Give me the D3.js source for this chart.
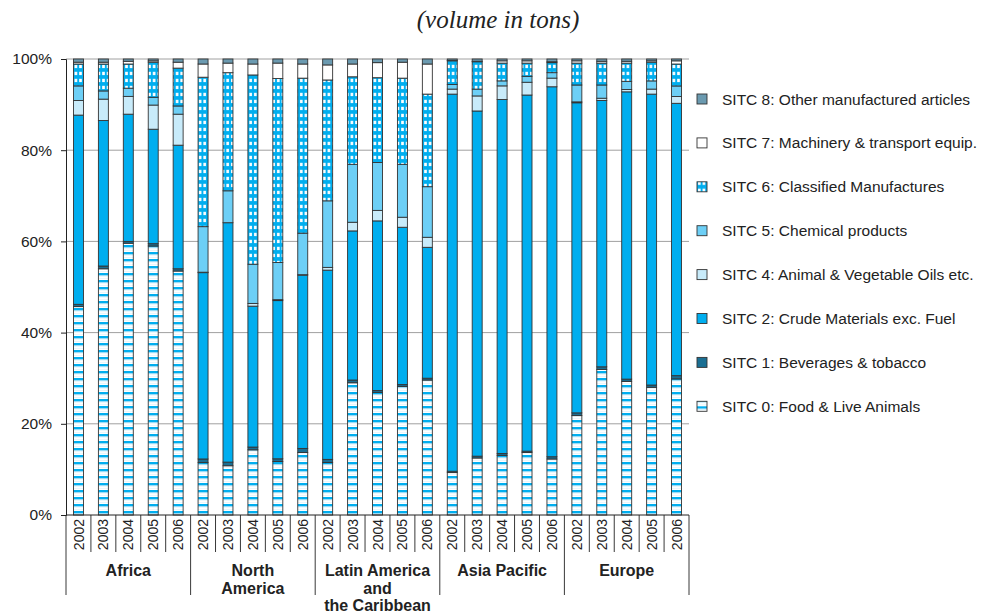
<!DOCTYPE html>
<html>
<head>
<meta charset="utf-8">
<script src="https://cdn.jsdelivr.net/npm/d3@7"></script>
<style>
	body { margin: 0; background: #fff; }
	text { font-family: "Liberation Sans", Arial, sans-serif; fill: #222; }
</style>
</head>
<body>
<svg id="svg"></svg>
<script>
var width = 1004, height = 613;

// data, share of volume (%) per region and year
var regions = ["Africa", "North|America", "Latin America|and|the Caribbean", "Asia Pacific", "Europe"];
var years = ["2002", "2003", "2004", "2005", "2006"];
var seriesKeys = ["sitc0", "sitc1", "sitc2", "sitc4", "sitc5", "sitc6", "sitc7", "sitc8"];
var seriesNames = ["SITC 0: Food & Live Animals", "SITC 1: Beverages & tobacco", "SITC 2: Crude Materials exc. Fuel",
	"SITC 4: Animal & Vegetable Oils etc.", "SITC 5: Chemical products", "SITC 6: Classified Manufactures",
	"SITC 7: Machinery & transport equip.", "SITC 8: Other manufactured articles"];
var sitc0 = [45.7, 54.0, 59.6, 59.0, 53.5, 11.5, 10.8, 14.3, 11.8, 13.7, 11.5, 29.0, 26.9, 28.2, 29.6, 9.3, 12.5, 13.1, 13.7, 12.3, 21.8, 31.9, 29.3, 28.0, 29.8];
var sitc1 = [0.5, 0.6, 0.4, 0.5, 0.5, 0.8, 0.8, 0.6, 0.6, 0.9, 0.7, 0.6, 0.4, 0.4, 0.4, 0.3, 0.4, 0.4, 0.3, 0.5, 0.6, 0.6, 0.5, 0.5, 0.7];
var sitc2 = [41.5, 31.9, 27.9, 25.1, 27.1, 40.9, 52.5, 30.9, 34.9, 38.0, 41.5, 32.7, 37.2, 34.5, 28.7, 82.7, 75.7, 77.7, 78.1, 81.3, 68.0, 58.4, 63.0, 63.8, 59.6];
var sitc4 = [3.2, 4.7, 3.9, 5.3, 6.8, 0.1, 0.0, 0.6, 0.2, 0.1, 0.6, 1.9, 2.3, 2.2, 2.2, 1.1, 3.3, 3.0, 2.8, 1.9, 0.2, 0.5, 0.5, 1.1, 1.5];
var sitc5 = [3.2, 1.8, 1.8, 1.7, 1.8, 10.0, 7.0, 8.6, 8.2, 9.1, 14.6, 12.7, 10.5, 11.6, 11.1, 1.0, 1.5, 1.1, 1.3, 1.2, 3.7, 2.9, 1.8, 1.8, 2.3];
var sitc6 = [4.8, 5.9, 5.3, 7.7, 8.3, 32.8, 25.9, 41.5, 40.6, 34.0, 26.5, 19.2, 18.6, 18.9, 20.3, 5.2, 6.0, 3.9, 2.9, 2.2, 4.8, 4.8, 4.0, 4.1, 4.8];
var sitc7 = [0.4, 0.4, 0.6, 0.3, 1.3, 2.9, 2.1, 2.4, 3.4, 3.1, 3.3, 2.8, 3.3, 3.5, 6.6, 0.1, 0.1, 0.5, 0.5, 0.2, 0.5, 0.4, 0.4, 0.3, 0.7];
var sitc8 = [0.7, 0.7, 0.5, 0.4, 0.7, 1.1, 0.9, 1.1, 0.9, 1.1, 1.3, 1.1, 0.8, 0.7, 1.1, 0.3, 0.5, 0.4, 0.4, 0.6, 0.4, 0.5, 0.5, 0.4, 0.4];
var yTicks = [0, 0.2, 0.4, 0.6, 0.8, 1];

var fills = {
	sitc0: "url(#stripes)", sitc1: "#1b6f93", sitc2: "#00aeef", sitc4: "#c8ebfa",
	sitc5: "#6dcff6", sitc6: "url(#checks)", sitc7: "#ffffff", sitc8: "#6b9ab0"
};

var svg = d3.select("#svg")
	.attr("width", width)
	.attr("height", height);

var defs = svg.append("defs");
var p0 = defs.append("pattern").attr("id", "stripes")
	.attr("patternUnits", "userSpaceOnUse").attr("width", 7).attr("height", 7);
p0.append("rect").attr("width", 7).attr("height", 7).attr("fill", "#fff");
p0.append("rect").attr("width", 7).attr("height", 2).attr("fill", "#00aeef");
p0.append("rect").attr("y", 2).attr("width", 7).attr("height", 1.2).attr("fill", "#9adcf7");
p0.append("rect").attr("y", 5).attr("width", 7).attr("height", 0.8).attr("fill", "#e3f5fd");
var p6 = defs.append("pattern").attr("id", "checks")
	.attr("patternUnits", "userSpaceOnUse").attr("width", 4.6).attr("height", 7);
p6.append("rect").attr("width", 4.6).attr("height", 7).attr("fill", "#00aeef");
p6.append("rect").attr("x", 1).attr("y", 1.8).attr("width", 2.6).attr("height", 3.3).attr("fill", "#fff");

var rows = d3.range(sitc0.length).map(function(i) {
	return { i: i, sitc0: sitc0[i], sitc1: sitc1[i], sitc2: sitc2[i], sitc4: sitc4[i],
		sitc5: sitc5[i], sitc6: sitc6[i], sitc7: sitc7[i], sitc8: sitc8[i] };
});
var stack = d3.stack().keys(seriesKeys).offset(d3.stackOffsetExpand);
var layers = stack(rows);

var plotLeft = 66, plotRight = 689, plotTop = 59, plotBottom = 515;
var x = d3.scaleBand()
	.domain(d3.range(rows.length))
	.range([plotLeft, plotRight])
	.paddingInner(0.6)
	.paddingOuter(0.3);
var y = d3.scaleLinear()
	.domain([0, 1])
	.range([plotBottom, plotTop]);

// grid
svg.append("g").selectAll("line")
	.data(yTicks.slice(1))
	.enter().append("line")
	.attr("x1", plotLeft).attr("x2", plotRight)
	.attr("y1", function(d) { return y(d); })
	.attr("y2", function(d) { return y(d); })
	.attr("stroke", "#a0a0a0").attr("stroke-width", 1);

// bars
svg.append("g").selectAll("g")
	.data(layers)
	.enter().append("g")
	.attr("fill", function(d) { return fills[d.key]; })
	.selectAll("rect")
	.data(function(d) { return d; })
	.enter().append("rect")
	.attr("x", function(d) { return x(d.data.i); })
	.attr("y", function(d) { return y(d[1]); })
	.attr("width", x.bandwidth())
	.attr("height", function(d) { return y(d[0]) - y(d[1]); })
	.attr("stroke", "#333")
	.attr("stroke-width", 0.9);

// y axis
var yAxis = d3.axisLeft(y)
	.tickValues(yTicks)
	.tickSize(5)
	.tickFormat(d3.format(".0%"));
svg.append("g")
	.attr("transform", "translate(" + plotLeft + ",0)")
	.call(yAxis)
	.call(function(g) {
		g.select(".domain").attr("stroke", "#222");
		g.selectAll(".tick line").attr("stroke", "#222");
		g.selectAll(".tick text").attr("font-size", 15.5).attr("font-family", "Liberation Sans, Arial, sans-serif")
			.attr("fill", "#222").attr("x", -14);
	});

// x axis line and separators
svg.append("line")
	.attr("x1", plotLeft).attr("x2", plotRight)
	.attr("y1", plotBottom).attr("y2", plotBottom)
	.attr("stroke", "#222");
var step = x.step();
svg.append("g").selectAll("line")
	.data(d3.range(rows.length + 1))
	.enter().append("line")
	.attr("x1", function(i) { return plotLeft + i * step; })
	.attr("x2", function(i) { return plotLeft + i * step; })
	.attr("y1", plotBottom)
	.attr("y2", function(i) { return i % years.length == 0 ? 595 : 552; })
	.attr("stroke", "#222").attr("stroke-width", 0.9);

svg.append("g").selectAll("text")
	.data(rows)
	.enter().append("text")
	.attr("transform", function(d) { return "translate(" + (x(d.i) + x.bandwidth() / 2) + ",519) rotate(-90)"; })
	.attr("text-anchor", "end")
	.attr("dy", "0.36em")
	.attr("font-size", 14)
	.text(function(d) { return years[d.i % years.length]; });

var groups = svg.append("g").selectAll("text")
	.data(regions)
	.enter().append("text")
	.attr("x", function(d, i) { return plotLeft + (i + 0.5) * years.length * step; })
	.attr("y", 576)
	.attr("text-anchor", "middle")
	.attr("font-size", 16)
	.attr("font-weight", "bold");
groups.selectAll("tspan")
	.data(function(d) { return d.split("|"); })
	.enter().append("tspan")
	.attr("x", function() { return this.parentNode.getAttribute("x"); })
	.attr("dy", function(d, i) { return i == 0 ? 0 : 17.5; })
	.text(function(d) { return d; });

// title
svg.append("text")
	.attr("x", 498)
	.attr("y", 28)
	.attr("text-anchor", "middle")
	.style("font-family", "Liberation Serif, Times New Roman, serif")
	.style("font-style", "italic")
	.attr("font-size", 25)
	.text("(volume in tons)");

// legend
var legend = svg.append("g").selectAll("g")
	.data(seriesKeys.slice().reverse())
	.enter().append("g")
	.attr("transform", function(d, i) { return "translate(697," + (99 + i * 43.9) + ")"; });
legend.append("rect")
	.attr("x", 0).attr("y", -5)
	.attr("width", 10).attr("height", 10)
	.attr("fill", function(d) { return fills[d]; })
	.attr("stroke", "#333").attr("stroke-width", 0.9);
legend.append("text")
	.attr("x", 25)
	.attr("dy", "0.36em")
	.attr("font-size", 15.5)
	.text(function(d) { return seriesNames[seriesKeys.indexOf(d)]; });
</script>
</body>
</html>
